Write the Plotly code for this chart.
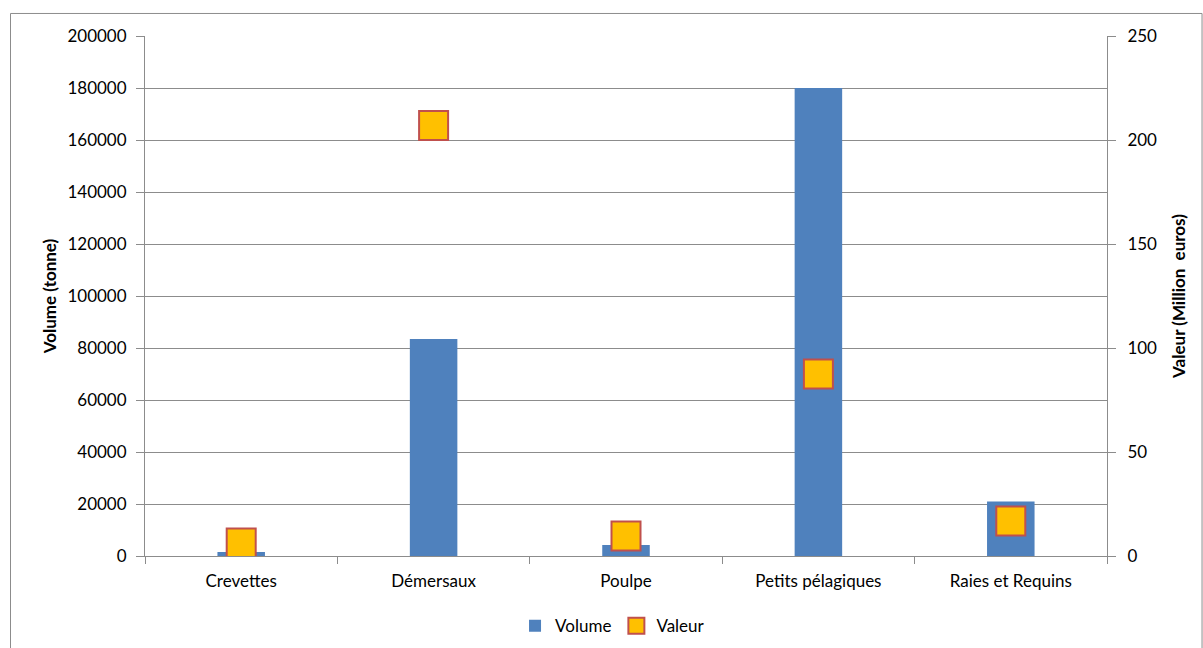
import plotly.graph_objects as go

categories = ["Crevettes", "Démersaux", "Poulpe", "Petits pélagiques", "Raies et Requins"]
volume_tonnes = [1500, 83500, 4200, 180000, 21000]
valeur_millions = [6.3, 207, 9.6, 87.5, 16.8]

FONT = "Lato, Open Sans, sans-serif"
GRID = "#8c8c8c"

fig = go.Figure()
fig.add_trace(go.Bar(
    x=categories, y=volume_tonnes, name="Volume",
    marker=dict(color="#4F81BD", line=dict(width=0)),
    yaxis="y",
))
fig.add_trace(go.Scatter(
    x=categories, y=valeur_millions, name="Valeur", mode="markers",
    marker=dict(symbol="square", size=29, color="#FFC000",
                line=dict(color="#C0504D", width=2)),
    yaxis="y2",
))

fig.update_layout(
    width=1203, height=648,
    margin=dict(l=145, r=96, t=36, b=92, autoexpand=False),
    paper_bgcolor="white", plot_bgcolor="white",
    font=dict(family=FONT, size=17, color="#000000"),
    bargap=0.753,
    showlegend=True,
    legend=dict(orientation="h", x=0.486, xanchor="center", y=-0.135, yanchor="middle",
                font=dict(size=17), itemwidth=30, traceorder="normal"),
    xaxis=dict(
        showline=True, linecolor=GRID, linewidth=1,
        ticks="outside", tickson="boundaries", ticklen=7, tickcolor=GRID,
        ticklabelstandoff=10,
        showgrid=False, tickfont=dict(size=17),
    ),
    yaxis=dict(
        range=[0, 200000], dtick=20000, tickformat="d",
        showline=True, linecolor=GRID, linewidth=1,
        ticks="outside", ticklen=8, tickcolor=GRID,
        ticklabelstandoff=6,
        showgrid=True, gridcolor=GRID, gridwidth=1,
        zeroline=False,
        title=dict(text="<b>Volume (tonne)</b>", font=dict(size=17), standoff=6),
        tickfont=dict(size=17),
    ),
    yaxis2=dict(
        range=[0, 250], dtick=50, overlaying="y", side="right",
        showline=True, linecolor=GRID, linewidth=1,
        ticks="outside", ticklen=8, tickcolor=GRID,
        ticklabelstandoff=8,
        showgrid=False, zeroline=False,
        title=dict(text="<b>Valeur (Million  euros)</b>", font=dict(size=17), standoff=16),
        tickfont=dict(size=17),
    ),
    shapes=[dict(
        type="rect", xref="paper", yref="paper",
        x0=-0.1398, x1=1.0988, y0=-0.3, y1=1.0433,
        line=dict(color="#8c8c8c", width=1), fillcolor="rgba(0,0,0,0)", layer="below",
    )],
)

fig.write_html("out.html")
